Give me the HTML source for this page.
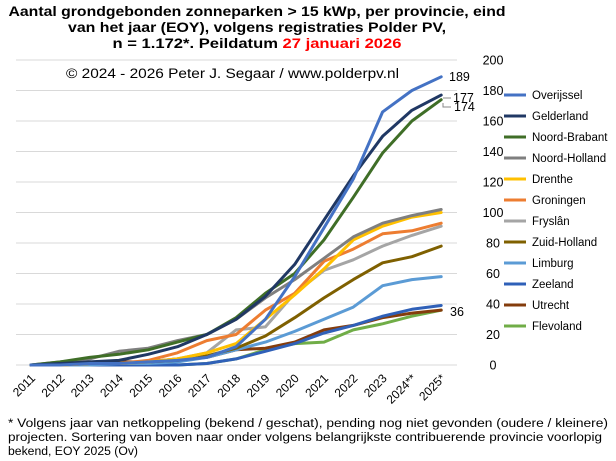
<!DOCTYPE html>
<html><head><meta charset="utf-8"><style>
html,body{margin:0;padding:0;background:#fff;}
svg{display:block;font-family:"Liberation Sans",Arial,sans-serif;}
</style></head><body>
<svg id="c" width="616" height="461" viewBox="0 0 616 461" xmlns="http://www.w3.org/2000/svg">
<rect width="616" height="461" fill="#fff"/>
<g font-weight="bold" font-size="13.5" text-anchor="middle" fill="#000">
<text x="257" y="16" textLength="497" lengthAdjust="spacingAndGlyphs">Aantal grondgebonden zonneparken &gt; 15 kWp, per provincie, eind</text>
<text x="257" y="32" textLength="378" lengthAdjust="spacingAndGlyphs">van het jaar (EOY), volgens registraties Polder PV,</text>
<text x="257" y="48" textLength="289" lengthAdjust="spacingAndGlyphs">n = 1.172*. Peildatum <tspan fill="#ff0000">27 januari 2026</tspan></text>
</g>
<g id="grid"></g>
<text x="66" y="78" font-size="13.5" textLength="333" lengthAdjust="spacingAndGlyphs">© 2024  - 2026 Peter J. Segaar / www.polderpv.nl</text>
<g id="series" fill="none" stroke-width="3" stroke-linejoin="round" stroke-linecap="round"></g>
<g id="legend" font-size="11.5"></g>
<g id="xl" font-size="12"></g>
<g font-size="12.5">
<text x="449" y="81">189</text>
<text x="453" y="102">177</text>
<text x="454" y="111">174</text>
<text x="450" y="316">36</text>
</g>
<path d="M443 98 H451 M443 103 L443 107 H451" stroke="#888" fill="none" stroke-width="1"/>
<g font-size="11.5">
<text x="8" y="427" textLength="600" lengthAdjust="spacingAndGlyphs">* Volgens jaar van netkoppeling (bekend / geschat), pending nog niet gevonden (oudere / kleinere)</text>
<text x="8" y="441" textLength="594" lengthAdjust="spacingAndGlyphs">projecten. Sortering van boven naar onder volgens belangrijkste contribuerende provincie voorlopig</text>
<text x="8" y="455" textLength="130" lengthAdjust="spacingAndGlyphs">bekend, EOY 2025 (Ov)</text>
</g>
</svg>
<script>
const NS="http://www.w3.org/2000/svg";
function el(p,t,a,txt){const e=document.createElementNS(NS,t);for(const k in a)e.setAttribute(k,a[k]);if(txt!==undefined)e.textContent=txt;p.appendChild(e);return e;}
const X=i=>31+i*29.3, Y=v=>365-v*1.525;
const g=document.getElementById('grid');
for(let v=0;v<=200;v+=20){
 el(g,'line',{x1:16,x2:457,y1:Y(v),y2:Y(v),stroke:'#d9d9d9','stroke-width':1});
 el(g,'text',{x:493,y:Y(v)+4.5,'font-size':12.5,'text-anchor':'middle'},String(v));
}
const S=[
["Overijssel","#4472c4",[0,0,1,1,2,3,5,12,30,58,90,122,166,180,189]],
["Gelderland","#203864",[0,1,2,3,7,12,20,30,45,66,95,124,150,167,177]],
["Noord-Brabant","#3f6e27",[0,2,5,7,10,15,20,31,47,60,82,110,139,160,174]],
["Noord-Holland","#7f7f7f",[0,2,4,9,11,16,20,30,44,56,70,84,93,98,102]],
["Drenthe","#ffc000",[0,0,1,1,2,4,8,14,30,46,63,82,91,97,100]],
["Groningen","#ed7d31",[0,0,1,1,3,8,16,20,36,47,68,76,86,88,93]],
["Fryslân","#a5a5a5",[0,0,1,1,2,4,8,23,25,47,62,69,78,85,91]],
["Zuid-Holland","#7f6000",[0,0,1,1,2,3,6,11,19,31,44,56,67,71,78]],
["Limburg","#5b9bd5",[0,0,0,1,1,2,5,10,15,22,30,38,52,56,58]],
["Zeeland","#2f60b8",[0,0,0,0,0,0,1,4,9,14,21,26,32,36.5,39]],
["Utrecht","#843c0c",[0,1,1,2,2,4,5,10,11,15,23,26,31,34,36]],
["Flevoland","#70ad47",[0,0,0,0,0,0,1,4,10,14,15,23,27,32,36]]
];
const sg=document.getElementById('series'), lg=document.getElementById('legend');
for(let s=S.length-1;s>=0;s--){
 const d=S[s][2].map((v,i)=>(i?'L':'M')+X(i).toFixed(1)+' '+Y(v).toFixed(1)).join(' ');
 el(sg,'path',{d,stroke:S[s][1]});
}
S.forEach((s,i)=>{
 const y=95+i*21;
 el(lg,'line',{x1:504,x2:526,y1:y,y2:y,stroke:s[1],'stroke-width':3});
 el(lg,'text',{x:532,y:y+4},s[0]);
});
const xl=document.getElementById('xl');
const L=["2011","2012","2013","2014","2015","2016","2017","2018","2019","2020","2021","2022","2023","2024**","2025*"];
L.forEach((t,i)=>{
 const x=X(i)+5,y=379;
 el(xl,'text',{x,y,'text-anchor':'end',transform:`rotate(-45 ${x} ${y})`},t);
});
</script>
</body></html>
